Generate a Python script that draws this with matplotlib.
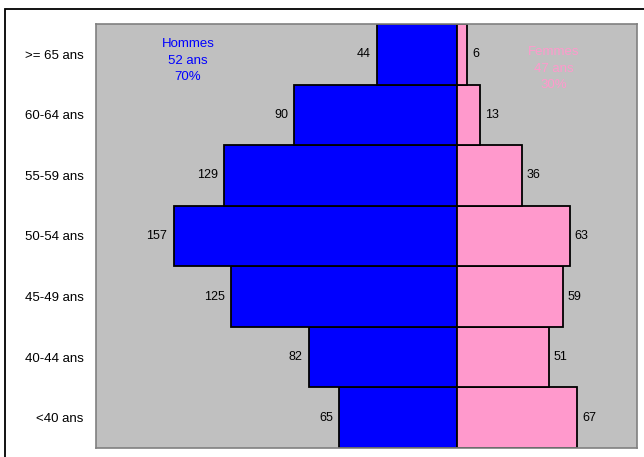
import matplotlib.pyplot as plt
from matplotlib.patches import Rectangle

## Data
categories = ['<40 ans', '40-44 ans', '45-49 ans', '50-54 ans', '55-59 ans', '60-64 ans', '>= 65 ans']
hommes = [65, 82, 125, 157, 129, 90, 44]
femmes = [67, 51, 59, 63, 36, 13, 6]
hommes_info = 'Hommes\n52 ans\n70%'
femmes_info = 'Femmes\n47 ans\n30%'

BLUE = '#0000FF'
PINK = '#FF99CC'
plt.rcParams['font.family'] = ['Liberation Sans', 'DejaVu Sans']

fig = plt.figure(figsize=(6.44, 4.57), dpi=100)
fig.patch.set_facecolor('white')

# outer chart frame (right and bottom borders fall outside the picture)
fig.patches.append(Rectangle((5 / 644, -0.05), 1.2, 1 - 9 / 457 + 0.05,
                             transform=fig.transFigure, fill=False,
                             edgecolor='black', linewidth=1.3))

ax = fig.add_axes([96 / 644, 9 / 457, (637 - 96) / 644, (457 - 24 - 9) / 457])
ax.set_facecolor('#C0C0C0')
for s in ax.spines.values():
    s.set_color('#808080')
    s.set_linewidth(1.2)

y = list(range(len(categories)))
ax.barh(y, [-v for v in hommes], height=1.0, color=BLUE, edgecolor='black', linewidth=1.3)
ax.barh(y, femmes, height=1.0, color=PINK, edgecolor='black', linewidth=1.3)

for i in y:
    ax.text(-hommes[i] - 3.5, i, str(hommes[i]), ha='right', va='center', fontsize=9)
    ax.text(femmes[i] + 2.5, i, str(femmes[i]), ha='left', va='center', fontsize=9)

ax.text(-149, 5.89, hommes_info, color=BLUE, ha='center', va='center', fontsize=9.5, linespacing=1.5)
ax.text(54, 5.76, femmes_info, color=PINK, ha='center', va='center', fontsize=9.5, linespacing=1.5)

ax.set_xlim(-200, 100)
ax.set_ylim(-0.5, len(categories) - 0.5)
ax.set_xticks([])
ax.set_yticks(y)
ax.set_yticklabels(categories, fontsize=9.5)
ax.tick_params(axis='y', length=0, pad=9)

fig.savefig('out.png', dpi=100)
